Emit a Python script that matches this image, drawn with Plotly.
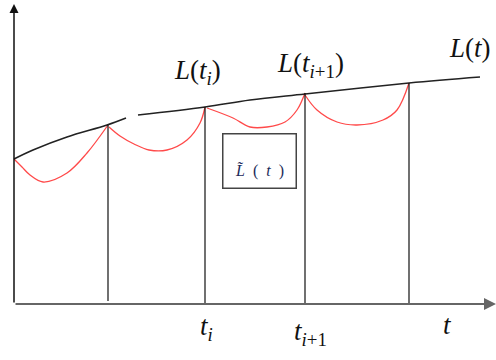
import plotly.graph_objects as go

# Upper envelope L(t) (there is a small break in the scanned line near t=118)
t_upper = [0, 19, 53, 93, 112, None, 124, 191, 236, 291, 395, 466]
L_upper = [145, 154, 167, 179, 186, None, 189, 197, 204, 210, 221, 227]

# Reset points t_i where the red curve touches L(t)
t_nodes = [94, 191, 291, 395]
L_nodes = [179, 197, 211, 221]
foot = [3, 0, 0, 0]  # where each drop line stops

# Red curve L~(t) between resets, one list per interval
red_t = [
    [0, 8, 16, 29, 53, 73, 94],
    [95, 106, 120, 135, 153, 173, 186, 191],
    [193, 219, 236, 253, 271, 283, 291],
    [291, 303, 323, 343, 369, 383, 395],
]
red_L = [
    [145, 137, 129, 122, 131, 151, 179],
    [177, 168, 160, 154, 154, 164, 181, 197],
    [196, 186, 177, 177, 182, 194, 211],
    [209, 194, 182, 179, 184, 194, 221],
]

SERIF = "Liberation Serif"

fig = go.Figure()

for xs, ys in zip(red_t, red_L):
    fig.add_trace(go.Scatter(x=xs, y=ys, mode="lines", line_shape="spline",
                             line=dict(color="#ff4a4a", width=1.3), hoverinfo="skip"))

fig.add_trace(go.Scatter(x=t_upper, y=L_upper, mode="lines", line_shape="spline",
                         line=dict(color="#222222", width=1.6), hoverinfo="skip"))

# vertical drop lines from each node to the t axis
vx, vy = [], []
for t, L, b in zip(t_nodes, L_nodes, foot):
    vx += [t, t, None]
    vy += [L, b, None]
fig.add_trace(go.Scatter(x=vx, y=vy, mode="lines",
                         line=dict(color="#111111", width=1.2), hoverinfo="skip"))

# axes drawn as arrows
fig.add_annotation(x=0, y=300, ax=0, ay=0, xref="x", yref="y", axref="x", ayref="y",
                   showarrow=True, arrowhead=2, arrowsize=1.2, arrowwidth=1.5,
                   arrowcolor="#111111", text="")
fig.add_annotation(x=482, y=0, ax=0, ay=0, xref="x", yref="y", axref="x", ayref="y",
                   showarrow=True, arrowhead=2, arrowsize=1.2, arrowwidth=2,
                   arrowcolor="#666666", text="")

label_font = dict(family=SERIF, size=27, color="#111111")
fig.add_annotation(x=t_nodes[1] - 8, y=L_nodes[1] + 35, showarrow=False,
                   text="<i>L</i>(<i>t</i><sub><i>i</i></sub>)", font=label_font)
fig.add_annotation(x=t_nodes[2] + 5, y=L_nodes[2] + 28, showarrow=False,
                   text="<i>L</i>(<i>t</i><sub><i>i</i>+1</sub>)", font=label_font)
fig.add_annotation(x=t_upper[-1] - 10, y=L_upper[-1] + 29, showarrow=False,
                   text="<i>L</i>(<i>t</i>)", font=label_font)

fig.add_annotation(x=t_nodes[1] + 1, y=-24, showarrow=False,
                   text="<i>t</i><sub><i>i</i></sub>", font=label_font)
fig.add_annotation(x=t_nodes[2] + 5, y=-29, showarrow=False,
                   text="<i>t</i><sub><i>i</i>+1</sub>", font=label_font)
fig.add_annotation(x=433, y=-21, showarrow=False,
                   text="<i>t</i>", font=label_font)

# boxed legend for L~(t)
fig.add_annotation(x=245.5, y=143, showarrow=False, text=" ", width=72, height=53,
                   bordercolor="#444444", borderwidth=1.5, borderpad=0, bgcolor="white")
fig.add_annotation(x=245, y=133, showarrow=False,
                   text="<i>L\u0303</i>  (  <i>t</i>  )",
                   font=dict(family=SERIF, size=16, color="#1c2b5a"))

fig.update_xaxes(range=[-14, 482], visible=False)
fig.update_yaxes(range=[-56, 304], visible=False)
fig.update_layout(width=496, height=360, margin=dict(l=0, r=0, t=0, b=0),
                  plot_bgcolor="white", paper_bgcolor="white", showlegend=False)

# drop the default page margin so the 496x360 figure fills the window
fig.write_html("out.html", config={"displayModeBar": False},
               post_script="document.body.style.margin = '0';")
